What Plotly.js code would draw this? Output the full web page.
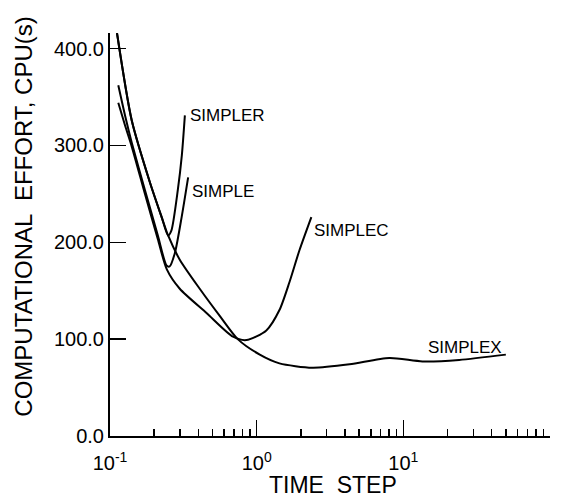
<!DOCTYPE html>
<html>
<head>
<meta charset="utf-8">
<script src="https://cdn.plot.ly/plotly-3.0.1.min.js"></script>
<style>html,body{margin:0;padding:0;background:#fff;}#chart{width:564px;height:502px;}</style>
</head>
<body>
<div id="chart"></div>
<script>
// ---- data (time step, CPU seconds) ----
const simplexX = [0.1116, 0.1406, 0.187, 0.225, 0.249, 0.299, 0.409, 0.560, 0.743, 1.05, 1.43, 2.40, 4.30, 8.03, 13.5, 24, 50];
const simplexY = [416, 326, 262, 226, 207, 182, 152, 124, 100, 84, 75, 70.5, 74, 80.5, 77, 78.5, 84];

const simplerX = [0.1116, 0.1406, 0.187, 0.225, 0.249, 0.262, 0.290, 0.309, 0.324];
const simplerY = [416, 326, 262, 226, 207, 212, 254, 290, 331];

const simpleX = [0.1139, 0.127, 0.1406, 0.173, 0.212, 0.243, 0.255, 0.277, 0.308, 0.341];
const simpleY = [362, 330, 303, 254, 207, 176, 175, 189, 226, 267];

const simplecX = [0.1139, 0.127, 0.1406, 0.173, 0.212, 0.244, 0.299, 0.455, 0.69, 0.851, 1.164, 1.43, 1.675, 1.96, 2.36];
const simplecY = [344, 320, 299, 250, 203, 172, 152, 127, 102.5, 99, 109, 130, 159, 192, 226];

const seriesNames = ["SIMPLER", "SIMPLE", "SIMPLEC", "SIMPLEX"];

const xTickVals = [0.1, 1, 10, 100];
const xTickText = ["10<sup>-1</sup>", "10<sup>0</sup>", "10<sup>1</sup>", "10<sup>2</sup>"];
const xMinorVals = [0.2,0.3,0.4,0.5,0.6,0.7,0.8,0.9, 2,3,4,5,6,7,8,9, 20,30,40,50,60,70,80,90];
const yTickVals = [0, 100, 200, 300, 400];
const yTickText = ["0.0", "100.0", "200.0", "300.0", "400.0"];

// ---- build ----
const FONT = "Liberation Sans, Arial, Helvetica, sans-serif";
const line = {color: "#000", width: 2, shape: "spline", smoothing: 0.7};
const allX = [simplerX, simpleX, simplecX, simplexX];
const allY = [simplerY, simpleY, simplecY, simplexY];
const traces = allX.map((xs, i) => ({
  x: xs, y: allY[i], type: "scatter", mode: "lines", name: seriesNames[i],
  line: line, hoverinfo: "skip", showlegend: false
}));

function endLabel(i, opts) {
  const xs = allX[i], ys = allY[i];
  return Object.assign({
    x: Math.log10(xs[xs.length - 1]), y: ys[ys.length - 1], xref: "x", yref: "y",
    text: seriesNames[i], showarrow: false,
    font: {family: FONT, size: 17, color: "#000"}
  }, opts);
}

const annotations = [
  endLabel(0, {xanchor: "left", yanchor: "middle", xshift: 3}),
  endLabel(1, {xanchor: "left", yanchor: "top", xshift: 2, yshift: -3}),
  endLabel(2, {xanchor: "left", yanchor: "top", xshift: 1, yshift: -2}),
  endLabel(3, {xanchor: "right", yanchor: "bottom", xshift: -2, yshift: -4}),
  {xref: "paper", yref: "paper", x: -0.197, y: 0.545, text: "COMPUTATIONAL  EFFORT, CPU(s)",
   textangle: -90, showarrow: false, xanchor: "center", yanchor: "middle",
   font: {family: FONT, size: 24, color: "#000"}},
  {xref: "paper", yref: "paper", x: 0.507, y: -0.122, text: "TIME  STEP",
   showarrow: false, xanchor: "center", yanchor: "middle",
   font: {family: FONT, size: 23, color: "#000"}}
];

const layout = {
  width: 564, height: 502,
  margin: {l: 110, r: 14, t: 33, b: 66, pad: 0},
  paper_bgcolor: "#fff", plot_bgcolor: "#fff",
  showlegend: false,
  xaxis: {
    type: "log", range: [-1, 2], showgrid: false, zeroline: false,
    showline: true, linecolor: "#000", linewidth: 2,
    ticks: "inside", ticklen: 16, tickwidth: 1.5, tickcolor: "#000",
    tickmode: "array", tickvals: xTickVals, ticktext: xTickText,
    tickfont: {family: FONT, size: 20, color: "#000"},
    ticklabelstandoff: 8,
    minor: {ticks: "inside", ticklen: 7, tickwidth: 1.5, tickcolor: "#000",
            tickmode: "array", tickvals: xMinorVals, showgrid: false}
  },
  yaxis: {
    range: [0, 416], showgrid: false, zeroline: false,
    showline: true, linecolor: "#000", linewidth: 2,
    ticks: "inside", ticklen: 16, tickwidth: 1.5, tickcolor: "#000",
    tickmode: "array", tickvals: yTickVals, ticktext: yTickText,
    tickfont: {family: FONT, size: 20, color: "#000"}
  },
  annotations: annotations
};

Plotly.newPlot("chart", traces, layout, {staticPlot: true, displayModeBar: false});
</script>
</body>
</html>
